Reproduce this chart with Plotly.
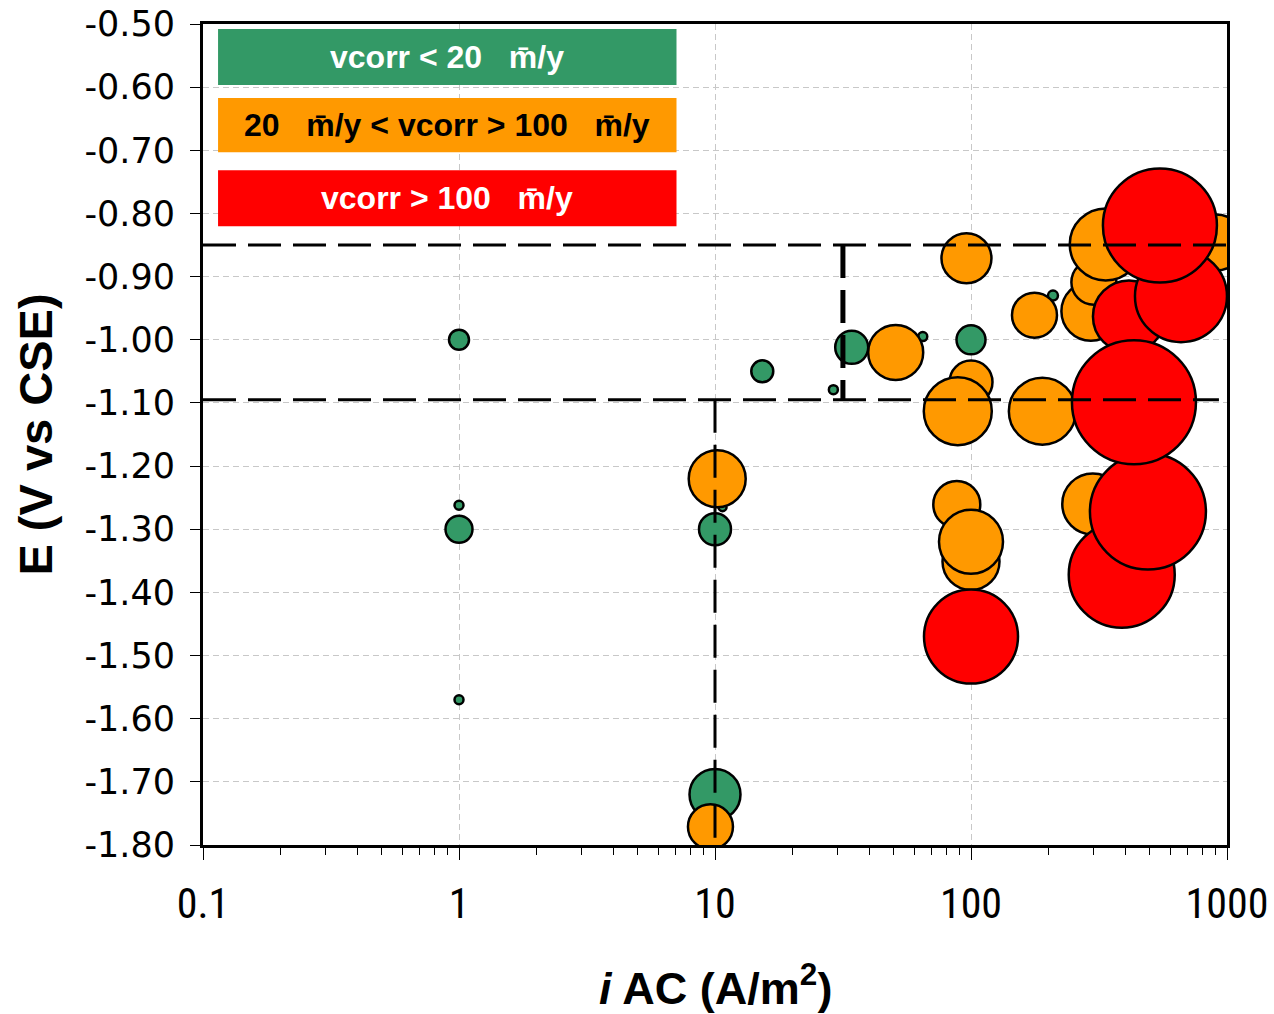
import plotly.graph_objects as go

# ---------------- data ----------------
# green: vcorr < 20 um/y
green_i = [1.0, 1.0, 1.0, 1.0, 10.0, 10.0, 15.3, 29.0, 34.2, 64.8, 100.0, 209.0, 10.7]
green_E = [-1.00, -1.262, -1.30, -1.57, -1.30, -1.72, -1.05, -1.079, -1.012, -0.995, -1.00, -0.93, -1.265]
green_size = [20, 9, 27, 9, 32, 51, 22, 9, 33, 9, 29, 10, 8]

# orange: 20 < vcorr < 100 um/y
orange_i = [96.0, 50.8, 177.0, 100.0, 88.8, 190.0, 10.2, 9.6, 88.0, 100.0, 100.0, 299.0, 294.0, 302.0, 336.0, 906.0]
orange_E = [-0.871, -1.020, -0.961, -1.067, -1.113, -1.113, -1.220, -1.771, -1.261, -1.351, -1.320, -1.260, -0.955, -0.909, -0.849, -0.846]
orange_size = [50, 55, 45, 43, 68, 67, 57, 45, 47, 57, 64, 61, 59, 45, 72, 56]

# red: vcorr > 100 um/y
red_i = [100.0, 388.0, 491.0, 414.0, 661.0, 547.0, 433.0]
red_E = [-1.470, -1.372, -1.272, -0.963, -0.931, -0.819, -1.099]
red_size = [94, 106, 116, 72, 92, 114, 124]

# threshold lines
E_upper = -0.85
E_lower = -1.095
i_mid = 31.6
i_low = 10.0
i_min, i_max = 0.1, 1000.0
i_lower_end = 930.0
E_min, E_max = -1.80, -0.50

y_tick_vals = [-0.5, -0.6, -0.7, -0.8, -0.9, -1.0, -1.1, -1.2, -1.3, -1.4, -1.5, -1.6, -1.7, -1.8]
y_tick_text = ["-0.50", "-0.60", "-0.70", "-0.80", "-0.90", "-1.00", "-1.10", "-1.20",
               "-1.30", "-1.40", "-1.50", "-1.60", "-1.70", "-1.80"]
x_tick_vals = [0.1, 1, 10, 100, 1000]
x_tick_text = ["0.1", "1", "10", "100", "1000"]
x_minor_vals = [0.2, 0.3, 0.4, 0.5, 0.6, 0.7, 0.8, 0.9,
                2, 3, 4, 5, 6, 7, 8, 9,
                20, 30, 40, 50, 60, 70, 80, 90,
                200, 300, 400, 500, 600, 700, 800, 900]

legend_labels = ["vcorr < 20   m\u0304/y", "20   m\u0304/y < vcorr > 100   m\u0304/y", "vcorr > 100   m\u0304/y"]
GREEN, ORANGE, RED = "#339966", "#FF9900", "#FF0000"

fig = go.Figure()
for xs, ys, ss, col in [(green_i, green_E, green_size, GREEN),
                        (orange_i, orange_E, orange_size, ORANGE),
                        (red_i, red_E, red_size, RED)]:
    fig.add_trace(go.Scatter(
        x=xs, y=ys, mode="markers",
        marker=dict(size=ss, sizemode="diameter", color=col, opacity=1,
                    line=dict(color="black", width=2.5)),
        showlegend=False, cliponaxis=True, hoverinfo="x+y"))

dash = "33px,12px"
shapes = [
    dict(type="line", xref="x", yref="y", x0=i_min, x1=i_max, y0=E_upper, y1=E_upper,
         line=dict(color="black", width=3, dash=dash), layer="above"),
    dict(type="line", xref="x", yref="y", x0=i_min, x1=i_lower_end, y0=E_lower, y1=E_lower,
         line=dict(color="black", width=3, dash=dash), layer="above"),
    dict(type="line", xref="x", yref="y", x0=i_mid, x1=i_mid, y0=E_upper, y1=E_lower,
         line=dict(color="black", width=5, dash=dash), layer="above"),
    dict(type="line", xref="x", yref="y", x0=i_low, x1=i_low, y0=E_lower, y1=E_min,
         line=dict(color="black", width=3, dash=dash), layer="above"),
]

# legend boxes (paper coords)
box_x0, box_x1 = 0.0147, 0.4624
boxes = [(0.9256, 0.9939, GREEN, "white"), (0.8439, 0.9098, ORANGE, "black"), (0.7537, 0.8220, RED, "white")]
annotations = []
for (y0, y1, col, tcol), lab in zip(boxes, legend_labels):
    shapes.append(dict(type="rect", xref="paper", yref="paper", x0=box_x0, x1=box_x1, y0=y0, y1=y1,
                       fillcolor=col, line=dict(width=0), layer="above"))
    annotations.append(dict(xref="paper", yref="paper", x=(box_x0 + box_x1) / 2, y=(y0 + y1) / 2,
                            text="<b>" + lab + "</b>", showarrow=False, xanchor="center", yanchor="middle",
                            font=dict(family="Liberation Sans, Arial", size=32, color=tcol)))

annotations.append(dict(xref="paper", yref="paper", x=-0.164, y=0.5, textangle=-90,
                        text="<b>E (V vs CSE)</b>", showarrow=False, xanchor="center", yanchor="middle",
                        font=dict(family="Liberation Sans, Arial", size=47, color="black")))
annotations.append(dict(xref="paper", yref="paper", x=0.5, y=-0.171,
                        text="<b><i>i</i> AC (A/m<sup>2</sup>)</b>", showarrow=False, xanchor="center",
                        yanchor="middle",
                        font=dict(family="Liberation Sans, Arial", size=45, color="black")))

fig.update_layout(
    width=1274, height=1014,
    margin=dict(l=203, r=47, t=24, b=169, autoexpand=False),
    paper_bgcolor="white", plot_bgcolor="white",
    shapes=shapes, annotations=annotations,
    xaxis=dict(type="log", range=[-1, 3], tickvals=x_tick_vals, ticktext=x_tick_text,
               ticks="outside", ticklen=12, tickwidth=1, tickcolor="black",
               minor=dict(tickvals=x_minor_vals, ticks="outside", ticklen=7, tickwidth=1,
                          tickcolor="black", showgrid=False),
               showline=True, linewidth=3, linecolor="black", mirror=True,
               showgrid=True, gridcolor="#c8c8c8", gridwidth=1, griddash="6px,4px",
               tickfont=dict(family="Liberation Sans Narrow, Arial Narrow, Roboto Condensed, sans-serif",
                             size=42, color="black"),
               ticklabelstandoff=8, zeroline=False, automargin=False),
    yaxis=dict(range=[E_min, E_max], tickvals=y_tick_vals, ticktext=y_tick_text,
               ticks="outside", ticklen=10, tickwidth=1, tickcolor="black",
               showline=True, linewidth=3, linecolor="black", mirror=True,
               showgrid=True, gridcolor="#c8c8c8", gridwidth=1, griddash="6px,4px",
               tickfont=dict(family="DejaVu Sans", size=35, color="black"),
               ticklabelstandoff=8, zeroline=False, automargin=False),
)

fig.write_html("out.html")
